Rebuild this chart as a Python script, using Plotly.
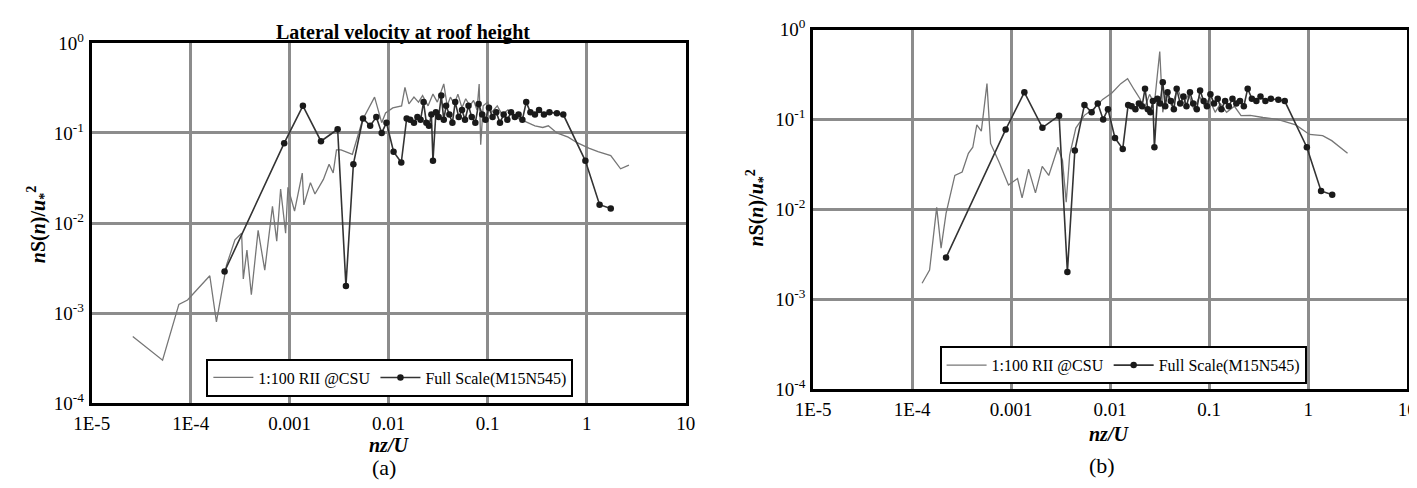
import plotly.graph_objects as go

W, H = 1417, 488
FONT = "Liberation Serif, Times New Roman, serif"

# ── data ─────────────────────────────────────────────────────────────────────
# full scale record (same in both panels)
FS_X = [2.2e-4, 8.8e-4, 1.36e-3, 2.07e-3, 3.05e-3, 3.7e-3, 4.4e-3, 5.5e-3,
        6.5e-3, 7.5e-3, 8.5e-3, 9.5e-3, 0.0112, 0.0134, 0.0152, 0.0165,
        0.018, 0.0195, 0.021, 0.0225, 0.024, 0.0255, 0.027, 0.028, 0.030,
        0.032, 0.034, 0.036, 0.038, 0.041, 0.044, 0.047, 0.051, 0.055,
        0.059, 0.064, 0.069, 0.075, 0.081, 0.088, 0.095, 0.103, 0.112,
        0.122, 0.133, 0.145, 0.158, 0.172, 0.188, 0.205, 0.224, 0.245,
        0.27, 0.30, 0.33, 0.37, 0.42, 0.50, 0.58, 0.97, 1.35, 1.75]
FS_Y = [0.0029, 0.077, 0.20, 0.081, 0.11, 0.0020, 0.045, 0.145,
        0.12, 0.15, 0.10, 0.13, 0.062, 0.047, 0.145, 0.14,
        0.13, 0.15, 0.14, 0.22, 0.13, 0.12, 0.16, 0.049, 0.17,
        0.15, 0.26, 0.14, 0.20, 0.16, 0.13, 0.22, 0.15, 0.18,
        0.14, 0.20, 0.15, 0.13, 0.21, 0.16, 0.14, 0.19, 0.15,
        0.17, 0.13, 0.16, 0.14, 0.17, 0.15, 0.16, 0.14, 0.22,
        0.17, 0.16, 0.18, 0.16, 0.17, 0.165, 0.16, 0.049, 0.016, 0.0145]

# 1:100 wind tunnel, panel (a)
RII_A_X = [2.6e-5, 5.2e-5, 7.6e-5, 9.3e-5, 1.2e-4, 1.56e-4, 1.82e-4, 2.3e-4,
           2.8e-4, 3.27e-4, 3.4e-4, 3.7e-4, 4.1e-4, 4.8e-4, 5.6e-4, 6.7e-4,
           7.4e-4, 8.1e-4, 9.1e-4, 9.6e-4, 1.12e-3, 1.34e-3, 1.39e-3, 1.62e-3,
           1.8e-3, 2.19e-3, 2.5e-3, 2.75e-3, 2.97e-3, 3.3e-3, 4.3e-3, 5.45e-3,
           7.2e-3, 8.5e-3, 9.3e-3, 0.011, 0.0135, 0.0146, 0.016, 0.018, 0.020,
           0.022, 0.025, 0.028, 0.031, 0.034, 0.036, 0.039, 0.042, 0.046,
           0.050, 0.055, 0.060, 0.066, 0.072, 0.078, 0.082, 0.085, 0.090,
           0.10, 0.11, 0.125, 0.14, 0.16, 0.19, 0.22, 0.26, 0.30, 0.36, 0.41,
           0.50, 0.65, 0.80, 0.88, 1.05, 1.3, 1.75, 2.2, 2.67]
RII_A_Y = [5.5e-4, 3.0e-4, 1.25e-3, 1.4e-3, 1.9e-3, 2.6e-3, 8.0e-4, 3.4e-3,
           6.5e-3, 7.7e-3, 2.4e-3, 5.0e-3, 1.6e-3, 8.3e-3, 3.0e-3, 0.0153,
           6.3e-3, 0.0239, 7.7e-3, 0.0249, 0.0136, 0.0358, 0.0159, 0.0281,
           0.021, 0.0305, 0.045, 0.036, 0.065, 0.065, 0.058, 0.14,
           0.25, 0.13, 0.167, 0.19, 0.20, 0.32, 0.21, 0.25, 0.22,
           0.26, 0.20, 0.27, 0.22, 0.30, 0.35, 0.20, 0.25, 0.21,
           0.27, 0.19, 0.24, 0.20, 0.23, 0.18, 0.35, 0.074, 0.20,
           0.22, 0.17, 0.20, 0.16, 0.18, 0.15, 0.14, 0.13, 0.12, 0.115, 0.12,
           0.10, 0.09, 0.078, 0.074, 0.068, 0.062, 0.056, 0.040, 0.044]

# 1:100 wind tunnel, panel (b)
RII_B_X = [1.26e-4, 1.5e-4, 1.77e-4, 1.96e-4, 2.2e-4, 2.7e-4, 3.2e-4, 3.7e-4,
           4.1e-4, 4.5e-4, 5.0e-4, 5.7e-4, 6.2e-4, 7.6e-4, 9.4e-4, 1.16e-3,
           1.29e-3, 1.5e-3, 1.76e-3, 2.06e-3, 2.4e-3, 2.97e-3, 3.3e-3, 3.6e-3,
           3.9e-3, 4.5e-3, 5.5e-3, 6.8e-3, 8.4e-3, 0.0104, 0.0128, 0.015,
           0.0175, 0.020, 0.022, 0.025, 0.028, 0.0317, 0.034, 0.037, 0.042,
           0.048, 0.055, 0.062, 0.070, 0.080, 0.090, 0.10, 0.115, 0.13, 0.15,
           0.18, 0.21, 0.26, 0.35, 0.49, 0.75, 1.03, 1.4, 1.73, 2.5]
RII_B_Y = [1.5e-3, 2.1e-3, 0.0105, 3.7e-3, 9.0e-3, 0.0238, 0.026, 0.042,
           0.049, 0.087, 0.074, 0.25, 0.054, 0.033, 0.0186, 0.022,
           0.0134, 0.028, 0.0152, 0.030, 0.0238, 0.049, 0.035, 0.012,
           0.040, 0.080, 0.111, 0.131, 0.167, 0.197, 0.25, 0.284,
           0.214, 0.17, 0.13, 0.19, 0.15, 0.57, 0.12, 0.20, 0.14,
           0.22, 0.15, 0.19, 0.13, 0.18, 0.14, 0.17, 0.12, 0.15, 0.12,
           0.14, 0.11, 0.111, 0.105, 0.10, 0.087, 0.068, 0.066, 0.058, 0.042]

X_TICKS = [1e-5, 1e-4, 1e-3, 1e-2, 1e-1, 1, 10]
X_LABELS = ["1E-5", "1E-4", "0.001", "0.01", "0.1", "1", "10"]
Y_TICKS = [1e-4, 1e-3, 1e-2, 1e-1, 1]
Y_LABELS = ["10<sup>-4</sup>", "10<sup>-3</sup>", "10<sup>-2</sup>",
            "10<sup>-1</sup>", "10<sup>0</sup>"]

WT_NAME = "1:100 RII @CSU"
FS_NAME = "Full Scale(M15N545)"


def dom_x(left, right):
    return [left / W, right / W]


def dom_y(top, bottom):
    return [1 - bottom / H, 1 - top / H]


def axis_style(**kw):
    return dict(
        type="log",
        showline=True, mirror=True, linecolor="black", linewidth=3,
        showgrid=True, gridcolor="#8c8c8c", gridwidth=3,
        ticks="", ticklabelstandoff=1, ticklabeloverflow="allow",
        tickfont=dict(family=FONT, size=19, color="black"),
        **kw,
    )


def add_panel(fig, wt_x, wt_y, xa, ya, legend):
    fig.add_trace(go.Scatter(
        x=wt_x, y=wt_y, mode="lines", name=WT_NAME,
        line=dict(color="#767676", width=1.3),
        xaxis=xa, yaxis=ya, legend=legend,
    ))
    fig.add_trace(go.Scatter(
        x=FS_X, y=FS_Y, mode="lines+markers", name=FS_NAME,
        line=dict(color="#333333", width=1.6),
        marker=dict(size=6.5, color="#1a1a1a"),
        xaxis=xa, yaxis=ya, legend=legend,
    ))


fig = go.Figure()
add_panel(fig, RII_A_X, RII_A_Y, "x", "y", "legend")
add_panel(fig, RII_B_X, RII_B_Y, "x2", "y2", "legend2")

xkw = dict(range=[-5, 1], tickvals=X_TICKS, ticktext=X_LABELS)
ykw = dict(range=[-4, 0], tickvals=Y_TICKS, ticktext=Y_LABELS)

legend_style = dict(
    orientation="h", xanchor="left", yanchor="top",
    bgcolor="white", bordercolor="black", borderwidth=2,
    font=dict(family=FONT, size=16, color="black"),
    itemwidth=40, tracegroupgap=0,
)

ylab = "<b><i>n</i>S(<i>n</i>)/<i>u</i><sub>*</sub><sup>2</sup></b>"
xlab = "<b><i>nz/U</i></b>"

fig.update_layout(
    width=W, height=H,
    margin=dict(l=0, r=0, t=0, b=0),
    paper_bgcolor="white", plot_bgcolor="white",
    font=dict(family=FONT, color="black"),
    xaxis=axis_style(domain=dom_x(67, 673), anchor="y", **xkw),
    yaxis=axis_style(domain=dom_y(23, 402), anchor="x", **ykw),
    xaxis2=axis_style(domain=dom_x(803, 1409), anchor="y2", **xkw),
    yaxis2=axis_style(domain=dom_y(9, 387), anchor="x2", **ykw),
    legend=dict(x=184 / W, y=1 - 355 / H, **legend_style),
    legend2=dict(x=932 / W, y=1 - 342 / H, **legend_style),
    annotations=[
        dict(text="<b>Lateral velocity at roof height</b>", x=385 / W, y=1 - 12 / H,
             font=dict(size=20)),
        dict(text=xlab, x=370 / W, y=1 - 446 / H, font=dict(size=20)),
        dict(text=xlab, x=1105 / W, y=1 - 434 / H, font=dict(size=20)),
        dict(text=ylab, x=13 / W, y=1 - 214 / H, textangle=-90, font=dict(size=20)),
        dict(text=ylab, x=746 / W, y=1 - 197 / H, textangle=-90, font=dict(size=20)),
        dict(text="(a)", x=365 / W, y=1 - 470 / H, font=dict(size=22)),
        dict(text="(b)", x=1098 / W, y=1 - 468 / H, font=dict(size=22)),
    ],
)
for a in fig.layout.annotations:
    a.update(xref="paper", yref="paper", showarrow=False,
             xanchor="center", yanchor="middle")

fig.write_html("out.html")
